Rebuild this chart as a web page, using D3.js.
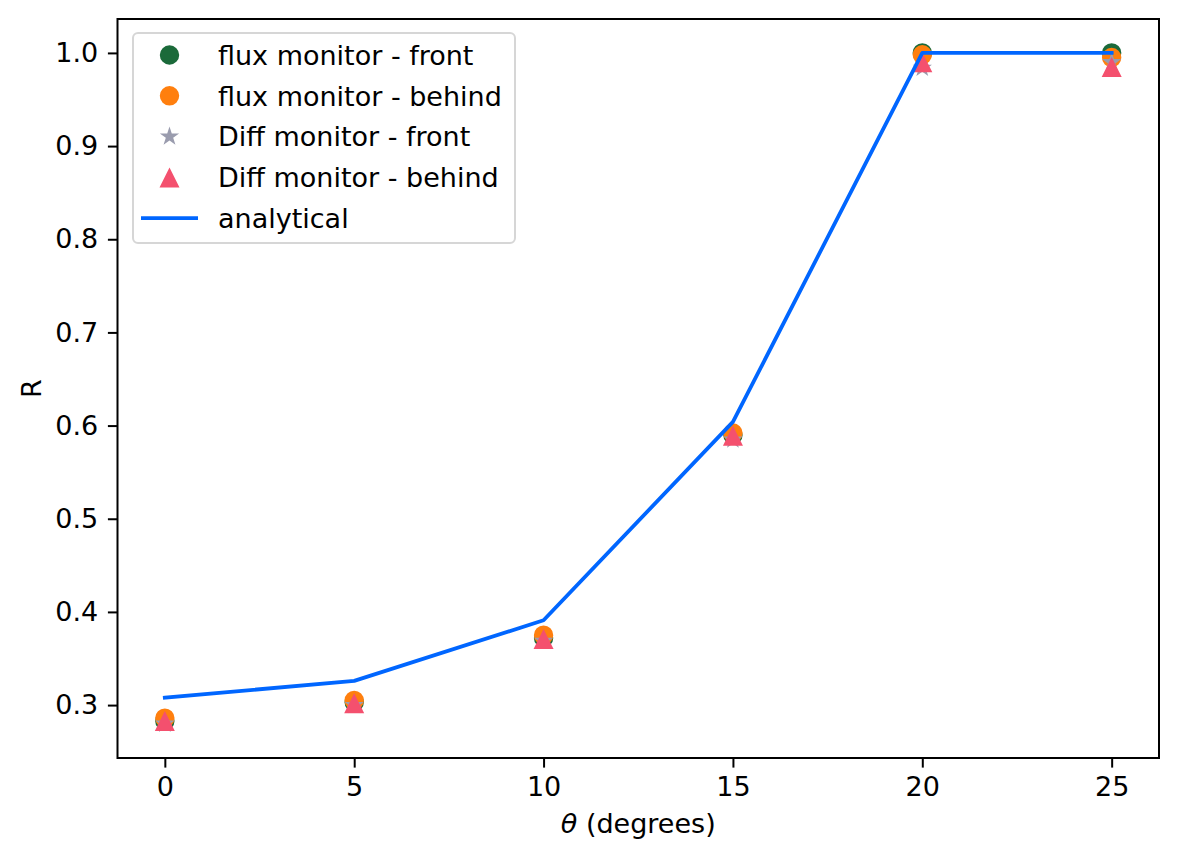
<!DOCTYPE html>
<html>
<head>
<meta charset="utf-8">
<script src="https://cdn.jsdelivr.net/npm/d3@7"></script>
<style>
  body { margin: 0; background: #fff; }
  text { font-family: "DejaVu Sans", sans-serif; fill: #000; }
</style>
</head>
<body>
<svg id="chart" width="1179" height="861"></svg>
<script>
// angles in degrees
const theta = [0, 5, 10, 15, 20, 25];
const fluxFront = [0.283, 0.303, 0.372, 0.590, 1.000, 1.000];
const fluxBehind = [0.286, 0.305, 0.375, 0.592, 0.998, 0.995];
const diffFront = [0.280, 0.300, 0.369, 0.585, 0.984, 0.990];
const diffBehind = [0.283, 0.302, 0.371, 0.589, 0.990, 0.985];
const analytical = [0.308, 0.326, 0.391, 0.604, 1.000, 1.000];
const xTicks = [0, 5, 10, 15, 20, 25];
const yTicks = [0.3, 0.4, 0.5, 0.6, 0.7, 0.8, 0.9, 1.0];

const W = 1179, H = 861;
const margin = {left: 117.5, right: 20, top: 19, bottom: 103};
const fontSize = 27;

const svg = d3.select("#chart");

const x = d3.scaleLinear().domain([-1.25, 26.25]).range([margin.left, W - margin.right]);
const y = d3.scaleLinear().domain([0.2432, 1.0364]).range([H - margin.bottom, margin.top]);

// matplotlib-like "^" marker: width == height
const tri = {
  draw(ctx, size) {
    const h = Math.sqrt(size) / 2;
    ctx.moveTo(0, -h);
    ctx.lineTo(h, h);
    ctx.lineTo(-h, h);
    ctx.closePath();
  }
};

const series = [
  {name: "flux monitor - front", vals: fluxFront, color: "#1b6a3a", type: d3.symbolCircle, size: Math.PI * 9.7 * 9.7},
  {name: "flux monitor - behind", vals: fluxBehind, color: "#ff7f0e", type: d3.symbolCircle, size: Math.PI * 9.7 * 9.7},
  {name: "Diff monitor - front", vals: diffFront, color: "#9a9cae", type: d3.symbolStar, size: 115},
  {name: "Diff monitor - behind", vals: diffBehind, color: "#f4506e", type: tri, size: 20 * 20}
];

// axes
const xAxis = d3.axisBottom(x).tickValues(xTicks).tickSize(9.6).tickPadding(9.4).tickFormat(d3.format("d"));
const yAxis = d3.axisLeft(y).tickValues(yTicks).tickSize(9.6).tickPadding(9.6).tickFormat(d3.format(".1f"));

const gx = svg.append("g").attr("transform", `translate(0,${H - margin.bottom})`).call(xAxis);
const gy = svg.append("g").attr("transform", `translate(${margin.left},0)`).call(yAxis);
[gx, gy].forEach(g => {
  g.select(".domain").remove();
  g.selectAll(".tick line").attr("stroke", "#000").attr("stroke-width", 2);
  g.selectAll(".tick text").attr("font-size", fontSize).attr("font-family", "DejaVu Sans").attr("fill", "#000");
});

// markers
const plot = svg.append("g");
series.forEach(s => {
  plot.selectAll(null)
    .data(theta.map((t, i) => [t, s.vals[i]]))
    .join("path")
      .attr("transform", d => `translate(${x(d[0])},${y(d[1])})`)
      .attr("d", d3.symbol().type(s.type).size(s.size))
      .attr("fill", s.color);
});

// analytical line
const line = d3.line().x((d, i) => x(theta[i])).y(d => y(d));
plot.append("path")
  .datum(analytical)
  .attr("d", line)
  .attr("fill", "none")
  .attr("stroke", "#0066ff")
  .attr("stroke-width", 3.8)
  .attr("stroke-linejoin", "round")
  .attr("stroke-linecap", "square");

// frame
svg.append("rect")
  .attr("x", margin.left).attr("y", margin.top)
  .attr("width", W - margin.right - margin.left)
  .attr("height", H - margin.bottom - margin.top)
  .attr("fill", "none").attr("stroke", "#000").attr("stroke-width", 2);

// axis labels
svg.append("text")
  .attr("x", (margin.left + W - margin.right) / 2)
  .attr("y", 833)
  .attr("text-anchor", "middle")
  .attr("font-size", fontSize)
  .call(t => {
    t.append("tspan").attr("font-style", "italic").text("θ");
    t.append("tspan").text(" (degrees)");
  });

svg.append("text")
  .attr("transform", `translate(41,${(margin.top + H - margin.bottom) / 2}) rotate(-90)`)
  .attr("text-anchor", "middle")
  .attr("font-size", fontSize)
  .text("R");

// legend
const leg = svg.append("g");
leg.append("rect")
  .attr("x", 133).attr("y", 33).attr("width", 382).attr("height", 210)
  .attr("rx", 5)
  .attr("fill", "#fff").attr("fill-opacity", 0.8)
  .attr("stroke", "#d6d6d6").attr("stroke-width", 2);

const entries = series.concat([{name: "analytical", line: true, color: "#0066ff"}]);
entries.forEach((s, i) => {
  const cy = 55 + i * 40.8;
  if (s.line) {
    leg.append("line")
      .attr("x1", 141).attr("x2", 198).attr("y1", cy).attr("y2", cy)
      .attr("stroke", s.color).attr("stroke-width", 3.8);
  } else {
    leg.append("path")
      .attr("transform", `translate(169.5,${cy})`)
      .attr("d", d3.symbol().type(s.type).size(s.size))
      .attr("fill", s.color);
  }
  leg.append("text")
    .attr("x", 218).attr("y", cy)
    .attr("dy", "0.36em")
    .attr("font-size", fontSize)
    .text(s.name);
});
</script>
</body>
</html>
